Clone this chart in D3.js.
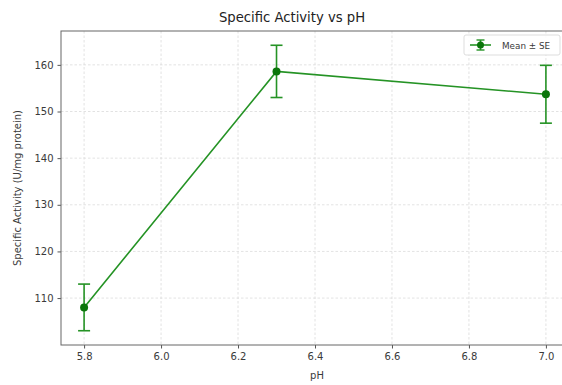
<!DOCTYPE html>
<html><head><meta charset="utf-8">
<script src="https://cdn.jsdelivr.net/npm/d3@7"></script>
<style>
html,body{margin:0;padding:0;background:#fff;}
svg{display:block;font-family:"DejaVu Sans",sans-serif;}
</style></head>
<body><svg id="c" width="562" height="385"></svg>
<script>
const phValues = [5.8, 6.3, 7.0];
const meanActivity = [108.0, 158.6, 153.7];
const seActivity = [5.0, 5.6, 6.2];
const xTicks = [5.8, 6.0, 6.2, 6.4, 6.6, 6.8, 7.0];
const yTicks = [110, 120, 130, 140, 150, 160];
const titleText = "Specific Activity vs pH";
const xLabel = "pH";
const yLabel = "Specific Activity (U/mg protein)";
const legendLabel = "Mean ± SE";

const svg = d3.select("#c");
const L = 61, R = 569, T = 31, B = 345;
const x = d3.scaleLinear().domain([5.74, 7.06]).range([L, R]);
const y = d3.scaleLinear().domain([99.94, 167.26]).range([B, T]);
const lineCol = "#259325", markCol = "#0b760b", textCol = "#3a3a3a";

// grid
const g = svg.append("g");
g.selectAll(".gx").data(xTicks).join("line")
  .attr("x1", d => x(d)).attr("x2", d => x(d)).attr("y1", T).attr("y2", B)
  .attr("stroke", "#dadada").attr("stroke-width", 0.8).attr("stroke-dasharray", "2.5,2");
g.selectAll(".gy").data(yTicks).join("line")
  .attr("y1", d => y(d)).attr("y2", d => y(d)).attr("x1", L).attr("x2", R)
  .attr("stroke", "#dadada").attr("stroke-width", 0.8).attr("stroke-dasharray", "2.5,2");

// axes
const xAxis = svg.append("g").attr("transform", `translate(0,${B})`)
  .call(d3.axisBottom(x).tickValues(xTicks).tickFormat(d3.format(".1f")).tickSize(3.5).tickPadding(4));
const yAxis = svg.append("g").attr("transform", `translate(${L},0)`)
  .call(d3.axisLeft(y).tickValues(yTicks).tickSize(3.5).tickPadding(4));
[xAxis, yAxis].forEach(a => {
  a.select(".domain").remove();
  a.selectAll("line").attr("stroke", "#555");
  a.selectAll("text").attr("fill", textCol).style("font-size", "10px").style("font-family", "DejaVu Sans, sans-serif");
});

// frame
svg.append("rect").attr("x", L).attr("y", T).attr("width", R - L).attr("height", B - T)
  .attr("fill", "none").attr("stroke", "#666").attr("stroke-width", 1);

// data
const data = phValues.map((p, i) => ({p, m: meanActivity[i], s: seActivity[i]}));
svg.append("path").datum(data)
  .attr("d", d3.line().x(d => x(d.p)).y(d => y(d.m)))
  .attr("fill", "none").attr("stroke", lineCol).attr("stroke-width", 1.6);
const eb = svg.append("g").selectAll("g").data(data).join("g");
eb.append("line").attr("x1", d => x(d.p)).attr("x2", d => x(d.p))
  .attr("y1", d => y(d.m - d.s)).attr("y2", d => y(d.m + d.s))
  .attr("stroke", lineCol).attr("stroke-width", 1.6);
[-1, 1].forEach(sg => {
  eb.append("line").attr("x1", d => x(d.p) - 6).attr("x2", d => x(d.p) + 6)
    .attr("y1", d => y(d.m + sg * d.s)).attr("y2", d => y(d.m + sg * d.s))
    .attr("stroke", lineCol).attr("stroke-width", 1.6);
});
eb.append("circle").attr("cx", d => x(d.p)).attr("cy", d => y(d.m)).attr("r", 4)
  .attr("fill", markCol);

// legend
const lg = svg.append("g").attr("transform", "translate(464,35)");
lg.append("rect").attr("width", 96).attr("height", 20).attr("rx", 2)
  .attr("fill", "#fff").attr("fill-opacity", 0.85).attr("stroke", "#ddd");
lg.append("line").attr("x1", 6).attr("x2", 27).attr("y1", 10).attr("y2", 10).attr("stroke", lineCol).attr("stroke-width", 1.6);
lg.append("line").attr("x1", 16.5).attr("x2", 16.5).attr("y1", 5).attr("y2", 15).attr("stroke", lineCol).attr("stroke-width", 1.6);
[5, 15].forEach(v => lg.append("line").attr("x1", 12.5).attr("x2", 20.5).attr("y1", v).attr("y2", v).attr("stroke", lineCol).attr("stroke-width", 1.4));
lg.append("circle").attr("cx", 16.5).attr("cy", 10).attr("r", 3.5).attr("fill", markCol);
lg.append("text").attr("x", 38).attr("y", 13.5).text(legendLabel)
  .attr("fill", textCol).style("font-size", "8.8px");

// titles
svg.append("text").attr("x", 292).attr("y", 22).attr("text-anchor", "middle")
  .text(titleText).attr("fill", "#222").style("font-size", "13.2px");
svg.append("text").attr("x", 317).attr("y", 379).attr("text-anchor", "middle")
  .text(xLabel).attr("fill", textCol).style("font-size", "10px");
svg.append("text").attr("transform", `translate(21,${(T + B) / 2 + 0}) rotate(-90)`)
  .attr("text-anchor", "middle").text(yLabel).attr("fill", textCol).style("font-size", "10px");
</script>
</body></html>
